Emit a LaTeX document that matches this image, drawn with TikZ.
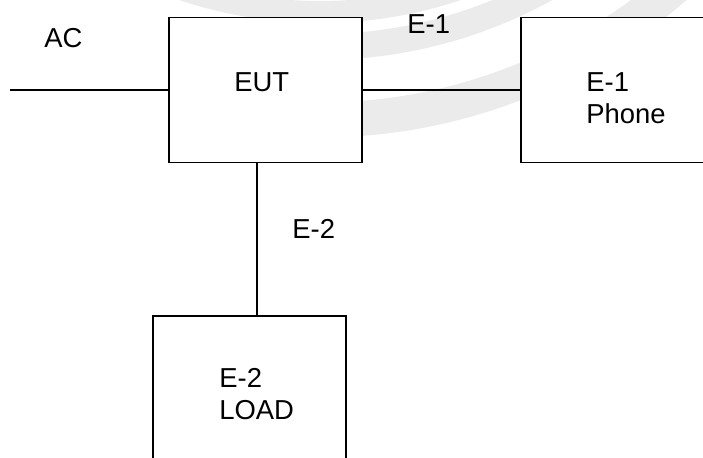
\documentclass[tikz,border=0pt]{standalone}
\usepackage{fontspec}
\setmainfont{Liberation Sans}

\begin{document}
\begin{tikzpicture}[x=0.02cm, y=0.02cm,
  every node/.style={font=\fontsize{15.6}{18.4}\selectfont, inner sep=0pt},
  box/.style={draw, line width=1.1pt, fill=white, minimum width=3.86cm, minimum height=2.9cm},
  wire/.style={line width=1.1pt},
  wm/.style={black!8}]
  \clip (0,0) rectangle (703,-457);

  % faint watermark arcs
  \coordinate (wmc) at (320,420);
  \draw[wm, line width=0.44cm] ([shift={(246:432)}]wmc) arc[start angle=246, end angle=290, radius=432];
  \draw[wm, line width=0.52cm] ([shift={(266:467)}]wmc) arc[start angle=266, end angle=300, radius=467];
  \draw[wm, line width=0.7cm] ([shift={(266:540)}]wmc) arc[start angle=266, end angle=314, radius=540];

  % boxes
  \node[box] (eut) at (265.5,-90) {};
  \node[box] (phone) at (617.5,-90) {};
  \node[box] (load) at (249.5,-388.5) {};

  % texts
  \node[anchor=base west] (actxt) at (44,-47) {AC};
  \node[anchor=base west] (euttxt) at (234,-91) {EUT};
  \node[anchor=base west] (e1txt) at (407,-33) {E-1};
  \node[anchor=base west] (e2txt) at (292,-238) {E-2};
  \node[align=left, anchor=north west] (phonetxt) at (586,-72) {E-1\\Phone};
  \node[align=left, anchor=north west] (loadtxt) at (219,-368) {E-2\\LOAD};

  % wires
  \coordinate (ac) at (10,-90);
  \coordinate (tap) at (257,0);
  \draw[wire] (ac) -- (eut.west);
  \draw[wire] (eut.east) -- (phone.west);
  \draw[wire] (eut.south -| tap) -- (load.north -| tap);
\end{tikzpicture}
\end{document}
